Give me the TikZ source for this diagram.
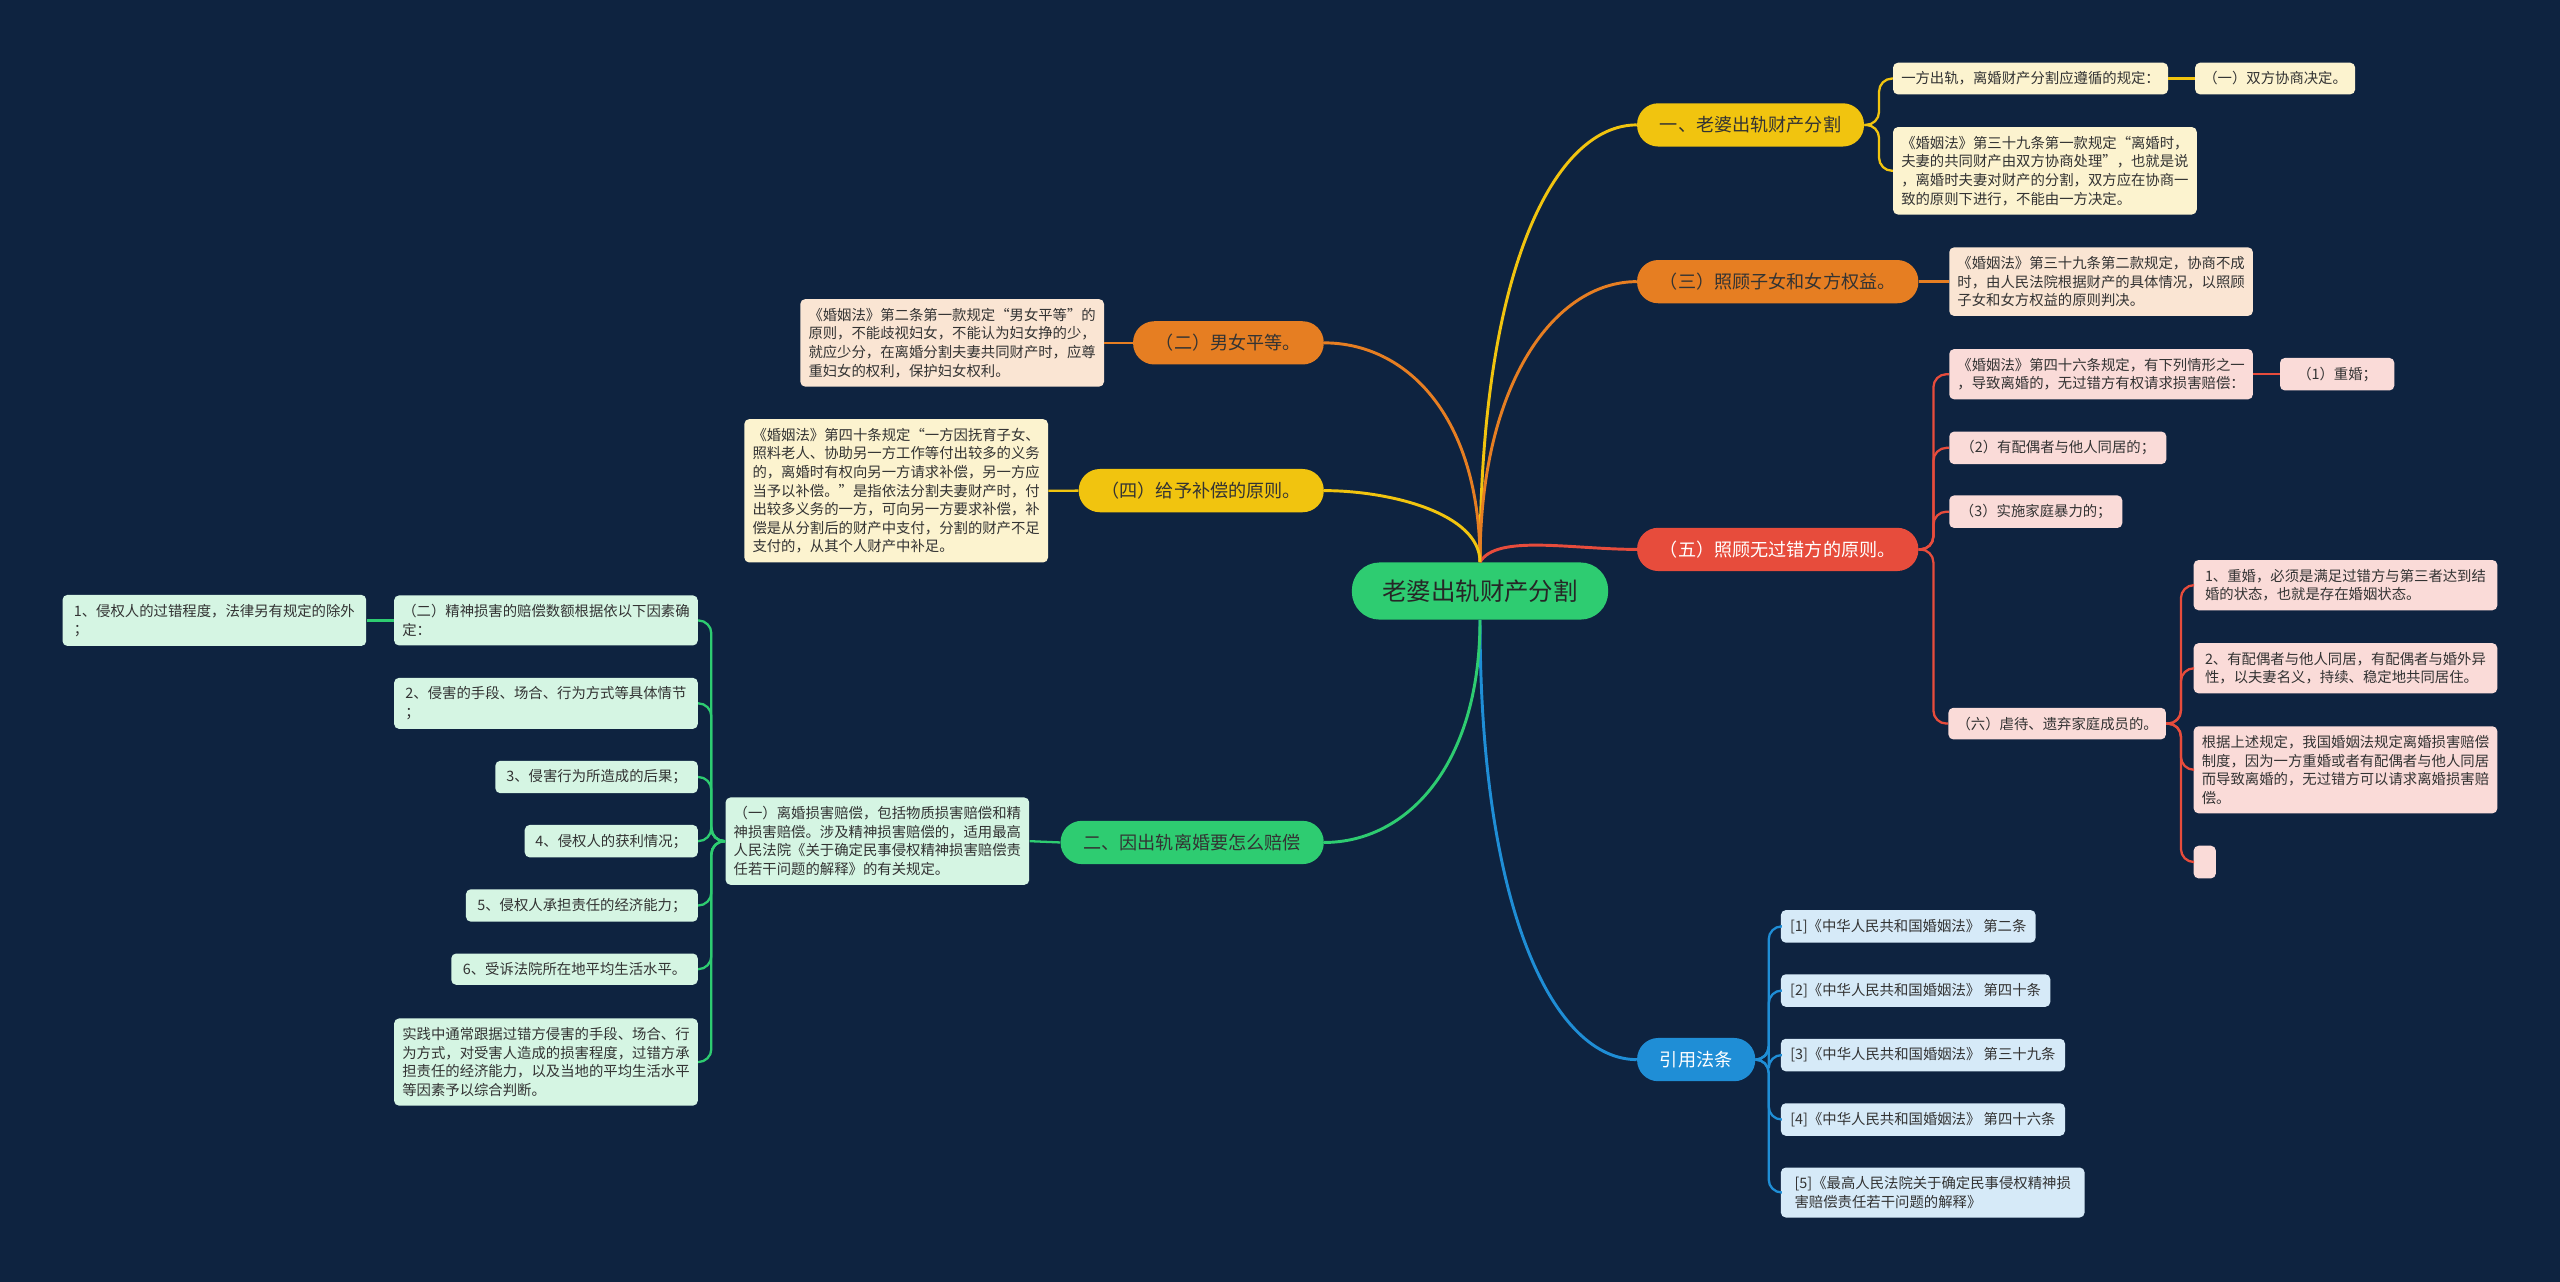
\documentclass[tikz,border=0pt]{standalone}
\usepackage{fontspec}
\setmainfont{Noto Sans CJK SC}
\usepackage{tikz}

\definecolor{bgnavy}{HTML}{0E2340}
\definecolor{cyellow}{HTML}{F1C40F}
\definecolor{corange}{HTML}{E67E22}
\definecolor{cred}{HTML}{E74C3C}
\definecolor{cgreen}{HTML}{2ECC71}
\definecolor{cblue}{HTML}{1F8ED6}
\definecolor{lyellow}{HTML}{FCF3CF}
\definecolor{lorange}{HTML}{FAE5D3}
\definecolor{lred}{HTML}{FADBD8}
\definecolor{lgreen}{HTML}{D5F5E3}
\definecolor{lblue}{HTML}{D6EAF8}

\tikzset{
    root/.style={fill=cgreen, rounded corners=17pt, minimum width=157pt, minimum height=35pt,
        font=\fontsize{15}{18}\selectfont, text=black!85},
    branch/.style={fill=#1, rounded corners=13pt, minimum height=26.5pt, inner xsep=14pt,
        font=\fontsize{11.1}{13}\selectfont, text=black!80},
    leaf/.style={fill=#1, rounded corners=3pt, inner xsep=5pt, inner ysep=5.5pt, align=left,
        font=\fontsize{8.8}{11.4}\selectfont, text=black!80},
    trunk/.style={draw=#1, line width=1.8pt},
    link/.style={draw=#1, line width=1.4pt, rounded corners=8pt},
}

\begin{document}
\begin{tikzpicture}[x=1pt,y=1pt]
    \fill[bgnavy] (0,0) rectangle (1568,-785);
    \node[root] (root) at (906.5,-362) {老婆出轨财产分割};

    \node[branch=cyellow, anchor=west] (b1) at (1002.5,-76.5) {一、老婆出轨财产分割};
    \node[branch=corange, anchor=west] (b3) at (1002.5,-172.5) {（三）照顾子女和女方权益。};
    \node[branch=cred, anchor=west, text=white] (b5) at (1002.5,-336.5) {（五）照顾无过错方的原则。};
    \node[branch=cblue, anchor=west, text=white] (bq) at (1002.5,-649) {引用法条};
    \node[branch=corange, anchor=east] (b2) at (811,-210) {（二）男女平等。};
    \node[branch=cyellow, anchor=east] (b4) at (811,-300.5) {（四）给予补偿的原则。};
    \node[branch=cgreen, anchor=east] (bg) at (811,-516) {二、因出轨离婚要怎么赔偿};

    \node[leaf=lyellow, anchor=west, minimum width=168pt] (y1a) at (1159.3,-48.1) {一方出轨，离婚财产分割应遵循的规定：};
    \node[leaf=lyellow, anchor=west, minimum width=97pt] (y1b) at (1344.3,-48.1) {（一）双方协商决定。};
    \node[leaf=lyellow, anchor=west, minimum width=186pt] (y1c) at (1159.3,-104.6)
        {《婚姻法》第三十九条第一款规定“离婚时，\\夫妻的共同财产由双方协商处理”，也就是说\\，离婚时夫妻对财产的分割，双方应在协商一\\致的原则下进行，不能由一方决定。};

    \node[leaf=lorange, anchor=west, minimum width=186pt] (o3) at (1193.7,-172.5)
        {《婚姻法》第三十九条第二款规定，协商不成\\时，由人民法院根据财产的具体情况，以照顾\\子女和女方权益的原则判决。};

    \node[leaf=lred, anchor=west, minimum width=186pt] (r1) at (1193.7,-229.2)
        {《婚姻法》第四十六条规定，有下列情形之一\\，导致离婚的，无过错方有权请求损害赔偿：};
    \node[leaf=lred, anchor=west, minimum width=70pt] (r1a) at (1396.3,-229.2) {（1）重婚；};
    \node[leaf=lred, anchor=west, minimum width=133pt] (r2) at (1193.7,-274.3) {（2）有配偶者与他人同居的；};
    \node[leaf=lred, anchor=west, minimum width=106pt] (r3) at (1193.7,-313.4) {（3）实施家庭暴力的；};
    \node[leaf=lred, anchor=west, minimum width=133pt] (r6) at (1193.2,-443.2) {（六）虐待、遗弃家庭成员的。};
    \node[leaf=lred, anchor=west, minimum width=186pt] (r6a) at (1343.4,-358.4)
        {1、重婚，必须是满足过错方与第三者达到结\\婚的状态，也就是存在婚姻状态。};
    \node[leaf=lred, anchor=west, minimum width=186pt] (r6b) at (1343.4,-409.3)
        {2、有配偶者与他人同居，有配偶者与婚外异\\性，以夫妻名义，持续、稳定地共同居住。};
    \node[leaf=lred, anchor=west, minimum width=186pt] (r6c) at (1343.4,-471.5)
        {根据上述规定，我国婚姻法规定离婚损害赔偿\\制度，因为一方重婚或者有配偶者与他人同居\\而导致离婚的，无过错方可以请求离婚损害赔\\偿。};
    \node[leaf=lred, anchor=west, inner sep=0pt, minimum width=13.6pt, minimum height=20pt] (r6d) at (1343.4,-528) {};

    \node[leaf=lblue, anchor=west, minimum width=156pt] (q1) at (1090.6,-567.4) {[1]《中华人民共和国婚姻法》 第二条};
    \node[leaf=lblue, anchor=west, minimum width=165pt] (q2) at (1090.6,-606.7) {[2]《中华人民共和国婚姻法》 第四十条};
    \node[leaf=lblue, anchor=west, minimum width=174pt] (q3) at (1090.6,-646.2) {[3]《中华人民共和国婚姻法》 第三十九条};
    \node[leaf=lblue, anchor=west, minimum width=174pt] (q4) at (1090.6,-685.7) {[4]《中华人民共和国婚姻法》 第四十六条};
    \node[leaf=lblue, anchor=west, minimum width=186pt] (q5) at (1090.6,-730.4)
        {[5]《最高人民法院关于确定民事侵权精神损\\害赔偿责任若干问题的解释》};

    \node[leaf=lorange, anchor=east, minimum width=186pt] (o2) at (676.4,-210)
        {《婚姻法》第二条第一款规定“男女平等”的\\原则，不能歧视妇女，不能认为妇女挣的少，\\就应少分，在离婚分割夫妻共同财产时，应尊\\重妇女的权利，保护妇女权利。};
    \node[leaf=lyellow, anchor=east, minimum width=186pt] (y4) at (642.1,-300.6)
        {《婚姻法》第四十条规定“一方因抚育子女、\\照料老人、协助另一方工作等付出较多的义务\\的，离婚时有权向另一方请求补偿，另一方应\\当予以补偿。”是指依法分割夫妻财产时，付\\出较多义务的一方，可向另一方要求补偿，补\\偿是从分割后的财产中支付，分割的财产不足\\支付的，从其个人财产中补足。};

    \node[leaf=lgreen, anchor=east, minimum width=186pt] (g1) at (630.6,-515.2)
        {（一）离婚损害赔偿，包括物质损害赔偿和精\\神损害赔偿。涉及精神损害赔偿的，适用最高\\人民法院《关于确定民事侵权精神损害赔偿责\\任若干问题的解释》的有关规定。};
    \node[leaf=lgreen, anchor=east, minimum width=186pt] (g2) at (427.6,-380)
        {（二）精神损害的赔偿数额根据依以下因素确\\定：};
    \node[leaf=lgreen, anchor=east, minimum width=186pt] (g3) at (427.6,-430.8)
        {2、侵害的手段、场合、行为方式等具体情节\\；};
    \node[leaf=lgreen, anchor=east, minimum width=124pt] (g4) at (427.6,-475.9) {3、侵害行为所造成的后果；};
    \node[leaf=lgreen, anchor=east, minimum width=106pt] (g5) at (427.6,-515.2) {4、侵权人的获利情况；};
    \node[leaf=lgreen, anchor=east, minimum width=142pt] (g6) at (427.6,-554.6) {5、侵权人承担责任的经济能力；};
    \node[leaf=lgreen, anchor=east, minimum width=151pt] (g7) at (427.6,-593.6) {6、受诉法院所在地平均生活水平。};
    \node[leaf=lgreen, anchor=east, minimum width=186pt] (g8) at (427.6,-650.5)
        {实践中通常跟据过错方侵害的手段、场合、行\\为方式，对受害人造成的损害程度，过错方承\\担责任的经济能力，以及当地的平均生活水平\\等因素予以综合判断。};
    \node[leaf=lgreen, anchor=east, minimum width=186pt] (g9) at (224.5,-380)
        {1、侵权人的过错程度，法律另有规定的除外\\；};

    \draw[trunk=cyellow] (root.north) to[out=90, in=180, out distance=180pt, in distance=50pt] (b1.west);
    \draw[trunk=corange] (root.north) to[out=90, in=180, out distance=110pt, in distance=50pt] (b3.west);
    \draw[trunk=cred] (root.north) to[out=60, in=180, out distance=20pt, in distance=40pt] (b5.west);
    \draw[trunk=cblue] (root.south) to[out=-90, in=180, out distance=180pt, in distance=50pt] (bq.west);
    \draw[trunk=corange] (root.north) to[out=90, in=0, out distance=90pt, in distance=50pt] (b2.east);
    \draw[trunk=cyellow] (root.north) to[out=90, in=0, out distance=30pt, in distance=40pt] (b4.east);
    \draw[trunk=cgreen] (root.south) to[out=-90, in=0, out distance=90pt, in distance=50pt] (bg.east);

    \draw[link=cyellow] (b1.east) -- ++(9,0) |- (y1a.west);
    \draw[link=cyellow] (b1.east) -- ++(9,0) |- (y1c.west);
    \draw[link=cyellow] (y1a.east) -- (y1b.west);
    \draw[link=corange] (b3.east) -- (o3.west);
    \draw[link=cred] (b5.east) -- ++(9,0) |- (r1.west);
    \draw[link=cred] (b5.east) -- ++(9,0) |- (r2.west);
    \draw[link=cred] (b5.east) -- ++(9,0) |- (r3.west);
    \draw[link=cred] (b5.east) -- ++(9,0) |- (r6.west);
    \draw[link=cred] (r1.east) -- (r1a.west);
    \draw[link=cred] (r6.east) -- ++(9,0) |- (r6a.west);
    \draw[link=cred] (r6.east) -- ++(9,0) |- (r6b.west);
    \draw[link=cred] (r6.east) -- ++(9,0) |- (r6c.west);
    \draw[link=cred] (r6.east) -- ++(9,0) |- (r6d.west);
    \draw[link=cblue] (bq.east) -- ++(8,0) |- (q1.west);
    \draw[link=cblue] (bq.east) -- ++(8,0) |- (q2.west);
    \draw[link=cblue] (bq.east) -- ++(8,0) |- (q3.west);
    \draw[link=cblue] (bq.east) -- ++(8,0) |- (q4.west);
    \draw[link=cblue] (bq.east) -- ++(8,0) |- (q5.west);
    \draw[link=corange] (b2.west) -- (o2.east);
    \draw[link=cyellow] (b4.west) -- (y4.east);
    \draw[link=cgreen] (bg.west) -- (g1.east);
    \draw[link=cgreen] (g1.west) -- ++(-8.5,0) |- (g2.east);
    \draw[link=cgreen] (g1.west) -- ++(-8.5,0) |- (g3.east);
    \draw[link=cgreen] (g1.west) -- ++(-8.5,0) |- (g4.east);
    \draw[link=cgreen] (g1.west) -- ++(-8.5,0) |- (g5.east);
    \draw[link=cgreen] (g1.west) -- ++(-8.5,0) |- (g6.east);
    \draw[link=cgreen] (g1.west) -- ++(-8.5,0) |- (g7.east);
    \draw[link=cgreen] (g1.west) -- ++(-8.5,0) |- (g8.east);
    \draw[link=cgreen] (g2.west) -- (g9.east);
\end{tikzpicture}
\end{document}
